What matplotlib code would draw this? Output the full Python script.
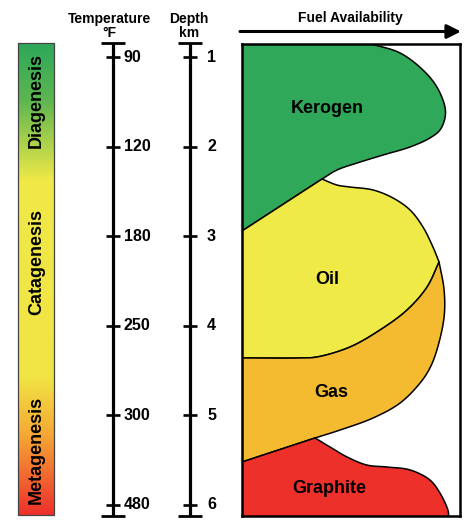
import numpy as np
import matplotlib
matplotlib.use("Agg")
import matplotlib.pyplot as plt
from matplotlib.colors import LinearSegmentedColormap
from matplotlib.patches import Polygon, Rectangle

# ---------------- data ----------------
depth_km = [1, 2, 3, 4, 5, 6]
temperature_f = [90, 120, 180, 250, 300, 480]
stage_names = ["Diagenesis", "Catagenesis", "Metagenesis"]
stage_depths = [1.49, 3.29, 5.39]
fuel_names = ["Kerogen", "Oil", "Gas", "Graphite"]
fuel_label_avail = [0.39, 0.39, 0.41, 0.40]
fuel_label_depth = [1.57, 3.48, 4.74, 5.82]

# boundaries: fuel availability (fraction of box width) vs depth (km)
kerogen_edge_avail = [0.595, 0.725, 0.830, 0.894, 0.931, 0.931, 0.908, 0.862, 0.771, 0.647, 0.528, 0.436, 0.367]
kerogen_edge_depth = [0.855, 0.955, 1.145, 1.335, 1.558, 1.681, 1.815, 1.904, 2.004, 2.094, 2.183, 2.261, 2.362]
kerogen_base_avail = [0.367, 0.0]
kerogen_base_depth = [2.362, 2.942]
oil_edge_avail = [0.367, 0.436, 0.495, 0.601, 0.693, 0.771, 0.830, 0.876, 0.904]
oil_edge_depth = [2.362, 2.429, 2.451, 2.484, 2.574, 2.708, 2.897, 3.121, 3.288]
oil_base_avail = [0.904, 0.849, 0.757, 0.633, 0.495, 0.344, 0.266, 0.0]
oil_base_depth = [3.288, 3.567, 3.824, 4.047, 4.237, 4.348, 4.359, 4.359]
gas_edge_avail = [0.904, 0.927, 0.927, 0.894, 0.862, 0.817, 0.725, 0.601, 0.450, 0.335]
gas_edge_depth = [3.288, 3.600, 3.902, 4.270, 4.471, 4.638, 4.862, 5.029, 5.163, 5.252]
gas_base_avail = [0.335, 0.0]
gas_base_depth = [5.252, 5.520]
graphite_edge_avail = [0.335, 0.404, 0.482, 0.573, 0.665, 0.771, 0.862, 0.908, 0.945, 0.948]
graphite_edge_depth = [5.252, 5.353, 5.464, 5.554, 5.576, 5.609, 5.721, 5.866, 6.060, 6.123]

fuel_colors = ["#2FA85A", "#F0EA48", "#F4BB30", "#EE302B"]

# ---------------- helpers ----------------
FONT = "Liberation Sans"
PX0, PXK = 57.0, 89.6
BOX_W = 218.0


def d_of(ypx):
    return 1 + (ypx - PX0) / PXK


def smooth(xs, ys, n=24):
    """Centripetal Catmull-Rom through the points (computed in pixel-like space)."""
    sc = np.array([BOX_W, PXK])
    p = np.column_stack([xs, ys]).astype(float) * sc
    if len(p) < 3:
        return p / sc
    ext = np.vstack([2 * p[0] - p[1], p, 2 * p[-1] - p[-2]])
    out = []
    for i in range(1, len(ext) - 2):
        P0, P1, P2, P3 = ext[i - 1], ext[i], ext[i + 1], ext[i + 2]
        t0 = 0.0
        t1 = t0 + max(np.linalg.norm(P1 - P0), 1e-6) ** 0.5
        t2 = t1 + max(np.linalg.norm(P2 - P1), 1e-6) ** 0.5
        t3 = t2 + max(np.linalg.norm(P3 - P2), 1e-6) ** 0.5
        t = np.linspace(t1, t2, n, endpoint=False)[:, None]
        A1 = (t1 - t) / (t1 - t0) * P0 + (t - t0) / (t1 - t0) * P1
        A2 = (t2 - t) / (t2 - t1) * P1 + (t - t1) / (t2 - t1) * P2
        A3 = (t3 - t) / (t3 - t2) * P2 + (t - t2) / (t3 - t2) * P3
        B1 = (t2 - t) / (t2 - t0) * A1 + (t - t0) / (t2 - t0) * A2
        B2 = (t3 - t) / (t3 - t1) * A2 + (t - t1) / (t3 - t1) * A3
        C = (t2 - t) / (t2 - t1) * B1 + (t - t1) / (t2 - t1) * B2
        out.append(C)
    out.append(p[-1:])
    return np.vstack(out) / sc


# ---------------- figure ----------------
fig = plt.figure(figsize=(4.75, 5.26), dpi=100)
ax = fig.add_axes([0, 0, 1, 1])
ax.set_xlim(0, 475)
ax.set_ylim(d_of(526), d_of(0))
ax.axis("off")

# gradient stage bar
cmap = LinearSegmentedColormap.from_list(
    "stages", [(0.0, "#2EA85A"), (0.12, "#5DB650"), (0.29, "#EFE948"),
               (0.71, "#F1E444"), (0.83, "#F5A835"), (1.0, "#EE302B")])
grad = np.linspace(0, 1, 256).reshape(-1, 1)
ax.imshow(grad, cmap=cmap, aspect="auto", extent=[18, 54, d_of(515), d_of(43)],
          interpolation="bilinear", zorder=1)
ax.add_patch(Rectangle((18, d_of(43)), 36, d_of(515) - d_of(43), fill=False,
                       edgecolor="#444444", lw=0.9, zorder=2))
for name, dep in zip(stage_names, stage_depths):
    ax.text(36.5, dep, name, rotation=90, ha="center", va="center",
            fontsize=13, fontweight="bold", family=FONT, color="black", zorder=3)

# temperature and depth scales
for xc, labels, lx in [(113, temperature_f, 124), (190, depth_km, 207)]:
    ax.plot([xc, xc], [d_of(43.5), d_of(516)], color="black", lw=2.3, solid_capstyle="butt")
    for yy in (43.5, 516):
        ax.plot([xc - 12, xc + 12], [d_of(yy), d_of(yy)], color="black", lw=2.0,
                solid_capstyle="butt")
    for dep, lab in zip(depth_km, labels):
        ax.plot([xc - 7, xc + 7], [dep, dep], color="black", lw=1.9, solid_capstyle="butt")
        ax.text(lx, dep, str(lab), ha="left", va="center", fontsize=11.5,
                fontweight="bold", family=FONT)

hdr = dict(ha="center", va="center", fontsize=10, fontweight="bold", family=FONT)
ax.text(110, d_of(19), "Temperature", **hdr)
ax.text(109, d_of(33), "°F", **hdr)
ax.text(189, d_of(19), "Depth", **hdr)
ax.text(189, d_of(33), "km", **hdr)
ax.text(350, d_of(18), "Fuel Availability", **hdr)
ax.annotate("", xy=(461, d_of(31.5)), xytext=(240, d_of(31.5)),
            arrowprops=dict(arrowstyle="-|>,head_length=0.6,head_width=0.3",
                            lw=2.2, color="black", mutation_scale=14,
                            shrinkA=0, shrinkB=0))

# fuel availability box
bx = fig.add_axes([242 / 475, (526 - 516) / 526, 218 / 475, 472 / 526])
bx.set_xlim(0, 1)
bx.set_ylim(d_of(516), d_of(44))
bx.set_xticks([])
bx.set_yticks([])
for s in bx.spines.values():
    s.set_linewidth(1.8)
    s.set_color("black")
    s.set_zorder(10)

top, bot = d_of(44), d_of(516)
kerogen = np.vstack([[[0, top - 0.05]], [[kerogen_edge_avail[0], top - 0.05]],
                     smooth(kerogen_edge_avail, kerogen_edge_depth),
                     np.column_stack([kerogen_base_avail, kerogen_base_depth])])
oil = np.vstack([np.column_stack([kerogen_base_avail[::-1], kerogen_base_depth[::-1]]),
                 smooth(oil_edge_avail, oil_edge_depth)[1:],
                 smooth(oil_base_avail, oil_base_depth)[1:]])
gas = np.vstack([smooth(oil_base_avail[::-1], oil_base_depth[::-1]),
                 smooth(gas_edge_avail, gas_edge_depth)[1:],
                 np.column_stack([gas_base_avail, gas_base_depth])[1:]])
graphite = np.vstack([np.column_stack([gas_base_avail[::-1], gas_base_depth[::-1]]),
                      smooth(graphite_edge_avail, graphite_edge_depth)[1:],
                      [[graphite_edge_avail[-1], bot + 0.05], [0, bot + 0.05]]])
for poly, col in zip([kerogen, oil, gas, graphite], fuel_colors):
    bx.add_patch(Polygon(poly, closed=True, facecolor=col, edgecolor="black",
                         lw=1.1, joinstyle="round"))

for name, fa, fd in zip(fuel_names, fuel_label_avail, fuel_label_depth):
    bx.text(fa, fd, name, ha="center", va="center", fontsize=13, fontweight="bold",
            family=FONT)

fig.savefig("out.png", dpi=100)
